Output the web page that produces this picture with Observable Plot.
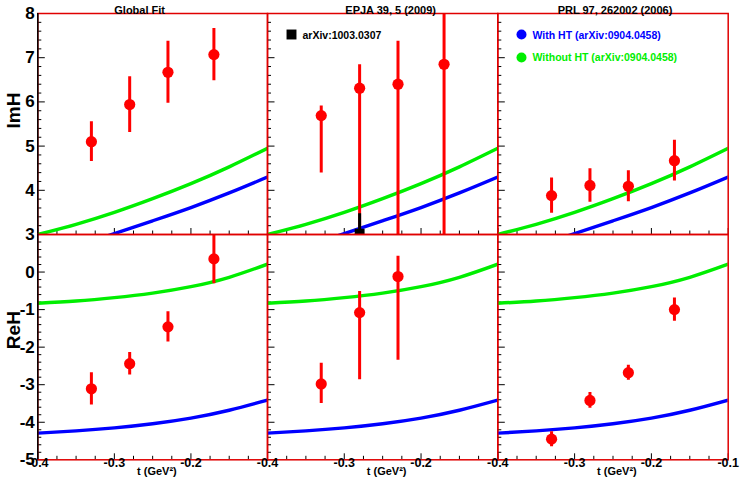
<!DOCTYPE html>
<html><head><meta charset="utf-8">
<script src="https://cdn.jsdelivr.net/npm/d3@7"></script>
<script src="https://cdn.jsdelivr.net/npm/@observablehq/plot@0.6"></script>
<style>
body{margin:0;background:#fff;}
#fig{position:relative;width:747px;height:483px;background:#fff;overflow:hidden;}
#fig svg{position:absolute;left:0;top:0;}
</style></head><body><div id="fig"></div>
<script>
// ---------- data ----------
const panelTitles = ["Global Fit", "EPJA 39, 5 (2009)", "PRL 97, 262002 (2006)"];
const rowLabels = ["ImH", "ReH"];
const xTitle = "t (GeV\u00B2)";
const tDomain = [-0.4, -0.1];
const imhDomain = [3, 8];
const rehDomain = [-5, 1];
const xMajorTicks = [-0.4, -0.3, -0.2, -0.1];
const imhTickLabels = [3, 4, 5, 6, 7, 8];
const rehTickLabels = [-5, -4, -3, -2, -1, 0];

const tValues = [-0.33, -0.28, -0.23, -0.17];

// ImH
const imhGlobal = [5.10, 5.94, 6.67, 7.07];
const imhGlobalErr = [0.45, 0.63, 0.70, 0.59];
const imhEpja = [5.69, 6.31, 6.40, 6.85];
const imhEpjaErrUp = [0.22, 0.53, 0.97, 1.30];
const imhEpjaErrDown = [1.30, 3.40, 3.50, 3.90];
const imhPrl = [3.88, 4.11, 4.09, 4.67];
const imhPrlErr = [0.40, 0.38, 0.35, 0.46];

// ReH
const rehGlobal = [-3.11, -2.44, -1.46, 0.35];
const rehGlobalErr = [0.43, 0.30, 0.40, 0.66];
const rehEpjaT = [-0.33, -0.28, -0.23];
const rehEpja = [-2.98, -1.08, -0.12];
const rehEpjaErrUp = [0.55, 0.56, 0.54];
const rehEpjaErrDown = [0.52, 1.79, 2.23];
const rehPrl = [-4.45, -3.42, -2.68, -1.00];
const rehPrlErr = [0.20, 0.21, 0.20, 0.31];

// arXiv:1003.0307 point (EPJA ImH panel)
const arxivLabel = "arXiv:1003.0307";
const arxivT = [-0.28];
const arxivImH = [3.02];
const arxivErr = [0.45];

// model curves
const curveT = [-0.4, -0.35, -0.3, -0.25, -0.2, -0.15, -0.1];
const imhWithHT = [2.50, 2.75, 3.02, 3.31, 3.61, 3.94, 4.30];
const imhWithoutHT = [3.00, 3.23, 3.50, 3.81, 4.15, 4.53, 4.95];
const rehWithHT = [-4.29, -4.23, -4.15, -4.04, -3.89, -3.68, -3.41];
const rehWithoutHT = [-0.83, -0.77, -0.68, -0.56, -0.39, -0.14, 0.21];
const legendWith = "With HT (arXiv:0904.0458)";
const legendWithout = "Without HT (arXiv:0904.0458)";

// ---------- build tables ----------
const pts = (t, v, up, down) => t.map((tt, i) => ({t: tt, v: v[i], lo: v[i] - down[i], hi: v[i] + up[i]}));
const curve = (v) => curveT.map((t, i) => ({t, v: v[i]}));

const panelData = [
  [pts(tValues, imhGlobal, imhGlobalErr, imhGlobalErr),
   pts(tValues, imhEpja, imhEpjaErrUp, imhEpjaErrDown),
   pts(tValues, imhPrl, imhPrlErr, imhPrlErr)],
  [pts(tValues, rehGlobal, rehGlobalErr, rehGlobalErr),
   pts(rehEpjaT, rehEpja, rehEpjaErrUp, rehEpjaErrDown),
   pts(tValues, rehPrl, rehPrlErr, rehPrlErr)]
];
const curves = [
  {with: curve(imhWithHT), without: curve(imhWithoutHT)},
  {with: curve(rehWithHT), without: curve(rehWithoutHT)}
];
const arxivPts = pts(arxivT, arxivImH, arxivErr, arxivErr);

// ---------- layout ----------
const W = 747, H = 483;
const colX = [37.3, 267, 497.3, 727.7];
const rowY = [13, 234, 459.3];
const RED = "#ff0000", GREEN = "#00ee00", BLUE = "#0000ff", FRAME = "#e00000";
const FONT = "'Liberation Sans', Arial, Helvetica, sans-serif";
const titleDx = [-13, 8, 2];

const xMinor = d3.range(-0.4, -0.1 + 1e-9, 0.025).filter(v => !xMajorTicks.some(m => Math.abs(m - v) < 1e-6));
function yMinorFor(dom) {
  return d3.range(dom[0], dom[1] + 1e-9, 0.2).filter(v => Math.abs(v - Math.round(v)) > 1e-6);
}
function yMajorFor(dom) { return d3.range(dom[0], dom[1] + 1e-9, 1); }

function panel(r, c) {
  const x0 = colX[c], x1 = colX[c + 1], y0 = rowY[r], y1 = rowY[r + 1];
  const fw = x1 - x0, fh = y1 - y0;
  const yDom = r === 0 ? imhDomain : rehDomain;
  const marks = [];
  // ticks (inward, ROOT style)
  marks.push(Plot.tickY(yMinorFor(yDom), {y: d => d, insetRight: fw - 4, stroke: "black", strokeWidth: 1}));
  marks.push(Plot.tickY(yMajorFor(yDom), {y: d => d, insetRight: fw - 7.5, stroke: "black", strokeWidth: 1}));
  marks.push(Plot.tickX(xMinor, {x: d => d, insetTop: fh - 3.5, stroke: "black", strokeWidth: 1}));
  marks.push(Plot.tickX(xMajorTicks, {x: d => d, insetTop: fh - 6, stroke: "black", strokeWidth: 1}));
  // curves
  const cv = curves[r];
  marks.push(Plot.line(cv.without, {x: "t", y: "v", stroke: GREEN, strokeWidth: 3.4, curve: "natural", clip: true}));
  marks.push(Plot.line(cv.with, {x: "t", y: "v", stroke: BLUE, strokeWidth: 3.4, curve: "natural", clip: true}));
  // data
  const d = panelData[r][c];
  marks.push(Plot.ruleX(d, {x: "t", y1: "lo", y2: "hi", stroke: RED, strokeWidth: 3, clip: true}));
  marks.push(Plot.dot(d, {x: "t", y: "v", r: 5.6, fill: RED, clip: true}));
  if (r === 0 && c === 1) {
    marks.push(Plot.ruleX(arxivPts, {x: "t", y1: "lo", y2: "hi", stroke: "black", strokeWidth: 3, clip: true}));
    marks.push(Plot.dot(arxivPts, {x: "t", y: "v", r: 5.6, symbol: "square", fill: "black", clip: true}));
    marks.push(Plot.dot([arxivLabel], {frameAnchor: "top-left", dx: 24, dy: 21, r: 5.6, symbol: "square", fill: "black"}));
    marks.push(Plot.text([arxivLabel], {frameAnchor: "top-left", dx: 35, dy: 18.5, text: d => d, textAnchor: "start", fontSize: 10.5, fontWeight: "bold", fill: "black"}));
  }
  if (r === 0 && c === 2) {
    marks.push(Plot.dot([legendWith], {frameAnchor: "top-left", dx: 23.7, dy: 21, r: 5, fill: BLUE}));
    marks.push(Plot.text([legendWith], {frameAnchor: "top-left", dx: 34.7, dy: 18.5, text: d => d, textAnchor: "start", fontSize: 10.5, fontWeight: "bold", fill: BLUE}));
    marks.push(Plot.dot([legendWithout], {frameAnchor: "top-left", dx: 23.7, dy: 44, r: 5, fill: GREEN}));
    marks.push(Plot.text([legendWithout], {frameAnchor: "top-left", dx: 34.7, dy: 40.5, text: d => d, textAnchor: "start", fontSize: 10.5, fontWeight: "bold", fill: GREEN}));
  }
  // frame
  marks.push(Plot.frame({stroke: FRAME, strokeWidth: 1.5}));
  if (c === 0) marks.push(Plot.ruleX([tDomain[0]], {stroke: "black", strokeWidth: 1.5}));
  // y tick labels + title
  if (c === 0) {
    marks.push(Plot.text(r === 0 ? imhTickLabels : rehTickLabels, {y: d => d, frameAnchor: "left", dx: -3, textAnchor: "end", text: d => String(d), fontSize: 17, fontWeight: "bold"}));
    marks.push(Plot.text([rowLabels[r]], {frameAnchor: "left", dx: -24, dy: r === 0 ? 4.5 : 2, rotate: -90, text: d => d, fontSize: 19, fontWeight: "bold"}));
  }
  // x labels
  if (r === 1) {
    const lab = c === 2 ? xMajorTicks : xMajorTicks.slice(0, 3);
    marks.push(Plot.text(lab, {x: d => d, frameAnchor: "bottom", dy: 7.5, text: d => d.toFixed(1), fontSize: 12.5, fontWeight: "bold"}));
    marks.push(Plot.text([xTitle], {frameAnchor: "bottom-left", dx: 118, dy: 15, text: d => d, textAnchor: "end", dx: 139, fontSize: 11, fontWeight: "bold"}));
  }
  // titles
  if (r === 0) {
    marks.push(Plot.text([panelTitles[c]], {frameAnchor: "top", dx: titleDx[c], dy: -7, text: d => d, fontSize: 11, fontWeight: "bold"}));
  }
  return Plot.plot({
    width: W, height: H,
    marginLeft: x0, marginRight: W - x1, marginTop: y0, marginBottom: H - y1,
    x: {domain: tDomain, axis: null},
    y: {domain: yDom, axis: null},
    style: {background: "transparent", fontFamily: FONT, overflow: "visible"},
    marks
  });
}

const fig = document.getElementById("fig");
for (let r = 0; r < 2; r++) for (let c = 0; c < 3; c++) fig.appendChild(panel(r, c));
</script>
</body></html>
